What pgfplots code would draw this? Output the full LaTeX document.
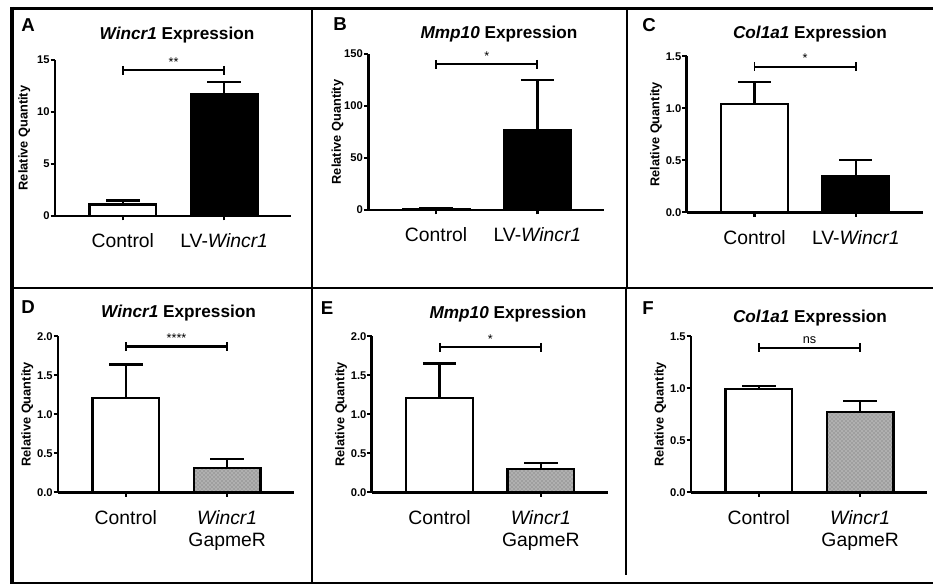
\documentclass[border=0pt]{standalone}
\usepackage{fontspec}
\setmainfont{Liberation Sans}
\usepackage{pgfplots}
\pgfplotsset{compat=1.18}
\usetikzlibrary{patterns}

\tikzset{sigtext/.style={anchor=south, font=\fontsize{9.5}{10}\selectfont, inner sep=2pt},
  ttl/.style={anchor=base, inner sep=0pt, font=\bfseries\fontsize{12.9}{15}\selectfont}}
\pgfplotsset{
 panel/.style={
   scale only axis, width=177pt, height=117pt,
   anchor=south west,
   xmin=-0.67, xmax=1.66, ymin=0,
   axis x line*=bottom, axis y line*=left,
   axis line style={line width=2.1pt, black},
   tick style={line width=1.7pt, black},
   major tick length=3.2pt, tick align=outside,
   xtick={0,1},
   clip=false,
   /pgf/number format/assume math mode=true,
   yticklabel style={font=\bfseries\fontsize{8.4}{9}\selectfont, inner sep=0.6pt},
   xticklabel style={font=\fontsize{14.5}{17}\selectfont, align=center, anchor=north, inner sep=0pt, yshift=-10pt},
   ylabel={Relative Quantity},
   ylabel style={font=\bfseries\fontsize{9.6}{11}\selectfont, at={(axis description cs:-0.13,0.5)}, anchor=center},
   bar width=0.66,
 },
 dec1/.style={yticklabel style={/pgf/number format/.cd, fixed, fixed zerofill, precision=1}},
 ctrl/.style={ybar, fill=white, draw=black, line width=1.7pt,
   error bars/y dir=plus, error bars/y explicit,
   error bars/error mark=|,
   error bars/error bar style={line width=1.7pt, black},
   error bars/error mark options={line width=1.7pt, black, mark size=12.5pt}},
 trt/.style={ctrl, fill=black},
 gap/.style={ctrl, fill=gray!75, postaction={pattern=crosshatch dots, pattern color=white!85!gray}},
 sig/.style={black, line width=1.6pt, mark=|, mark size=3.3pt, mark options={line width=1.4pt}},
}

\begin{document}
\begin{tikzpicture}
\useasboundingbox (0,0) rectangle (699.75pt,438.75pt);

% ---------- A ----------
\begin{axis}[panel, at={(41.25pt,276.75pt)}, ymax=15, ytick={0,5,10,15},
  xticklabels={Control, LV-\textit{Wincr1}}]
\addplot[ctrl] coordinates {(0,1.1) +- (0,0.39)};
\addplot[trt] coordinates {(1,11.75) +- (0,1.15)};
\addplot[sig] coordinates {(0,14.0) (1,14.0)} node[pos=0.5, sigtext] {**};
\end{axis}

% ---------- B ----------
\begin{axis}[panel, at={(276.2pt,281.25pt)}, ymax=150, ytick={0,50,100,150},
  xticklabels={Control, LV-\textit{Wincr1}}]
\addplot[ctrl] coordinates {(0,1.2) +- (0,1.0)};
\addplot[trt] coordinates {(1,77) +- (0,48)};
\addplot[sig] coordinates {(0,140) (1,140)} node[pos=0.5, sigtext] {*};
\end{axis}

% ---------- C ----------
\begin{axis}[panel, dec1, at={(515pt,279.5pt)}, ymax=1.5, ytick={0,0.5,1,1.5},
  xticklabels={Control, LV-\textit{Wincr1}}]
\addplot[ctrl] coordinates {(0,1.045) +- (0,0.21)};
\addplot[trt] coordinates {(1,0.35) +- (0,0.15)};
\addplot[sig] coordinates {(0,1.40) (1,1.40)} node[pos=0.5, sigtext] {*};
\end{axis}

% ---------- D ----------
\begin{axis}[panel, dec1, at={(43.5pt,69.5pt)}, ymax=2, ytick={0,0.5,1,1.5,2},
  xticklabels={Control, {\textit{Wincr1}\\GapmeR}}]
\addplot[ctrl] coordinates {(0,1.21) +- (0,0.43)};
\addplot[gap] coordinates {(1,0.31) +- (0,0.115)};
\addplot[sig] coordinates {(0,1.87) (1,1.87)} node[pos=0.5, sigtext] {****};
\end{axis}

% ---------- E ----------
\begin{axis}[panel, dec1, at={(278.8pt,69.5pt)}, ymax=2, ytick={0,0.5,1,1.5,2},
  xtick={1}, xticklabels={{\textit{Wincr1}\\GapmeR}},
  extra x ticks={0}, extra x tick labels={Control},
  extra x tick style={grid=none, major tick style={draw=none}}]
\addplot[ctrl] coordinates {(0,1.21) +- (0,0.44)};
\addplot[gap] coordinates {(1,0.30) +- (0,0.075)};
\addplot[sig] coordinates {(0,1.86) (1,1.86)} node[pos=0.5, sigtext] {*};
\end{axis}

% ---------- F ----------
\begin{axis}[panel, dec1, at={(518.25pt,69.5pt)}, ymax=1.5, ytick={0,0.5,1,1.5},
  xticklabels={Control, {\textit{Wincr1}\\GapmeR}}]
\addplot[ctrl] coordinates {(0,0.995) +- (0,0.03)};
\addplot[gap] coordinates {(1,0.77) +- (0,0.105)};
\addplot[sig] coordinates {(0,1.39) (1,1.39)} node[pos=0.5, sigtext] {ns};
\end{axis}

% ---------- titles ----------
\node[ttl] at (132.75pt,409.4pt) {\textit{Wincr1} Expression};
\node[ttl] at (374.25pt,410.2pt) {\textit{Mmp10} Expression};
\node[ttl] at (607.5pt,410.2pt) {\textit{Col1a1} Expression};
\node[ttl] at (133.9pt,200.4pt) {\textit{Wincr1} Expression};
\node[ttl] at (381pt,199.8pt) {\textit{Mmp10} Expression};
\node[ttl] at (607.5pt,197.2pt) {\textit{Col1a1} Expression};

% ---------- frame ----------
\draw[line width=2.25pt] (7.5pt,432.4pt) -- (699.75pt,432.4pt);
\draw[line width=3pt] (9pt,433.5pt) -- (9pt,0.8pt);
\draw[line width=1.5pt] (9pt,1.5pt) -- (699.75pt,1.5pt);
\draw[line width=1.2pt] (9pt,222.75pt) -- (699.75pt,222.75pt);
\draw[line width=1.1pt] (234pt,432.4pt) -- (234pt,1.5pt);
\draw[line width=1.1pt] (470.25pt,432.4pt) -- (470.25pt,222.75pt);
\draw[line width=1.1pt] (469.5pt,222.75pt) -- (469.5pt,7.5pt);

% ---------- panel letters ----------
\begin{scope}[every node/.style={font=\bfseries\fontsize{14}{16}\selectfont, anchor=center, inner sep=0pt}]
\node at (21pt,420pt) {A};
\node at (255pt,420.75pt) {B};
\node at (486.75pt,420pt) {C};
\node at (21pt,208.5pt) {D};
\node at (245.25pt,207.75pt) {E};
\node at (486pt,207.75pt) {F};
\end{scope}
\end{tikzpicture}
\end{document}
